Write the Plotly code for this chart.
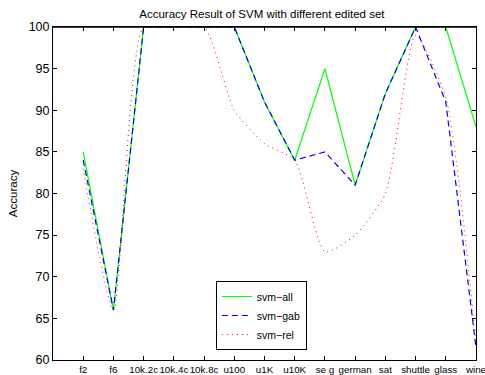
import plotly.graph_objects as go

categories = ["f2", "f6", "10k.2c", "10k.4c", "10k.8c", "u100", "u1K", "u10K",
              "se g", "german", "sat", "shuttle", "glass", "wine"]
svm_all = [85, 66, 100, 100, 100, 100, 91, 84, 95, 81, 92, 100, 100, 88]
svm_gab = [84, 66, 100, 100, 100, 100, 91, 84, 85, 81, 92, 100, 91, 61.5]
svm_rel = [83, 66, 100, 100, 100, 90, 86, 84, 73, 75, 80, 99, 91.5, 62]

xpos = list(range(1, len(categories) + 1))
FONT = "Liberation Sans, Arial, Helvetica, sans-serif"

fig = go.Figure()
fig.add_trace(go.Scatter(x=xpos, y=svm_all, mode="lines", name="svm−all",
                         line=dict(color="#00ff00", width=1.2)))
fig.add_trace(go.Scatter(x=xpos, y=svm_gab, mode="lines", name="svm−gab",
                         line=dict(color="#0000ff", width=1.2, dash="6px,4px")))
fig.add_trace(go.Scatter(x=xpos, y=svm_rel, mode="lines", name="svm−rel",
                         line=dict(color="#ff0000", width=1, dash="1px,4px",
                                   shape="spline", smoothing=0.6)))

fig.update_layout(
    width=485, height=375,
    margin=dict(l=53, r=9, t=27, b=15),
    paper_bgcolor="white", plot_bgcolor="white",
    font=dict(family=FONT, color="black", size=11),
    title=dict(text="Accuracy Result of SVM with different edited set",
               x=0.54, xanchor="center", y=0.962, yanchor="middle",
               font=dict(size=11.5)),
    showlegend=True,
    legend=dict(x=0.385, y=0.03, xanchor="left", yanchor="bottom",
                bgcolor="white", bordercolor="black", borderwidth=1,
                font=dict(size=10.5), tracegroupgap=0, itemwidth=30),
    xaxis=dict(range=[0, 14], tickvals=xpos, ticktext=categories,
               showgrid=False, zeroline=False, showline=True, linecolor="black",
               linewidth=1, mirror="ticks", ticks="inside", ticklen=4,
               tickcolor="black", tickfont=dict(size=9.8), tickangle=0,
               automargin=False, ticklabeloverflow="allow"),
    yaxis=dict(range=[60, 100], tickvals=[60, 65, 70, 75, 80, 85, 90, 95, 100],
               showgrid=False, zeroline=False, showline=True, linecolor="black",
               linewidth=1, mirror="ticks", ticks="inside", ticklen=4,
               tickcolor="black", tickfont=dict(size=12.5), automargin=False,
               title=dict(text="Accuracy", font=dict(size=11.5), standoff=8)),
    shapes=[dict(type="line", xref="paper", yref="paper", x0=0, x1=1, y0=1, y1=1,
                 line=dict(color="black", width=1.5), layer="above")],
)

fig.write_html("out.html", config={"displayModeBar": False},
               post_script="document.body.style.margin='0';document.body.style.overflow='hidden';")
